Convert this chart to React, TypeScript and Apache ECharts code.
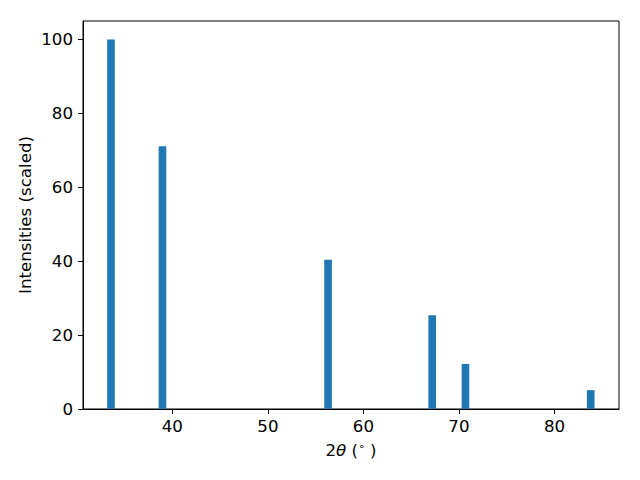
import React, { useEffect, useRef } from "react";
import * as echarts from "echarts";

const twoTheta = [33.58, 38.97, 56.3, 67.2, 70.68, 83.79];
const intensities = [100, 71.1, 40.4, 25.4, 12.2, 5.1];
const xTicks = [40, 50, 60, 70, 80];
const yTicks = [0, 20, 40, 60, 80, 100];
const barWidth = 0.8;

export default function App() {
  const ref = useRef<HTMLDivElement>(null);
  useEffect(() => {
    const chart = echarts.init(ref.current!, null, { renderer: "svg" });
    const font = "DejaVu Sans";
    const fs = 16.67;
    chart.setOption({
      animation: false,
      textStyle: { fontFamily: font },
      grid: {
        left: 83,
        right: 21,
        top: 21,
        bottom: 71,
        show: true,
        borderColor: "#000",
        borderWidth: 1,
        backgroundColor: "transparent",
      },
      xAxis: {
        type: "value",
        min: 30.65,
        max: 86.75,
        name: "{n|2}{i|θ}{n| (}{s|∘}{n| )}",
        nameLocation: "middle",
        nameGap: 32,
        nameMoveOverlap: false,
        nameTextStyle: {
          rich: {
            n: { fontFamily: font, fontSize: fs, color: "#000" },
            i: { fontFamily: font, fontSize: fs, fontStyle: "italic", color: "#000" },
            s: { fontFamily: font, fontSize: 11, color: "#000", verticalAlign: "top", padding: [0, 0, 8, 0] },
          },
        },
        axisLine: { show: true, onZero: false, lineStyle: { color: "#000", width: 1 } },
        axisTick: { show: true, length: 5, customValues: xTicks, lineStyle: { color: "#000" } },
        axisLabel: { customValues: xTicks, color: "#000", fontSize: fs, fontFamily: font, margin: 9 },
        splitLine: { show: false },
      },
      yAxis: {
        type: "value",
        min: 0,
        max: 105,
        name: "Intensities (scaled)",
        nameLocation: "middle",
        nameGap: 49,
        nameMoveOverlap: false,
        nameTextStyle: { color: "#000", fontSize: fs, fontFamily: font },
        axisLine: { show: true, lineStyle: { color: "#000", width: 1 } },
        axisTick: { show: true, length: 5, customValues: yTicks, lineStyle: { color: "#000" } },
        axisLabel: { customValues: yTicks, color: "#000", fontSize: fs, fontFamily: font, margin: 10 },
        splitLine: { show: false },
      },
      series: [
        {
          type: "custom",
          data: twoTheta.map((x, i) => [x, intensities[i]]),
          renderItem: (params: any, api: any) => {
            const x = api.value(0);
            const y = api.value(1);
            const p0 = api.coord([x - barWidth / 2, y]);
            const p1 = api.coord([x + barWidth / 2, 0]);
            return {
              type: "rect",
              shape: { x: p0[0], y: p0[1], width: p1[0] - p0[0], height: p1[1] - p0[1] },
              style: { fill: "#1f77b4" },
            };
          },
        },
      ],
    });
    return () => chart.dispose();
  }, []);
  return <div ref={ref} style={{ width: 640, height: 480, position: "absolute", left: 0, top: 0 }} />;
}
